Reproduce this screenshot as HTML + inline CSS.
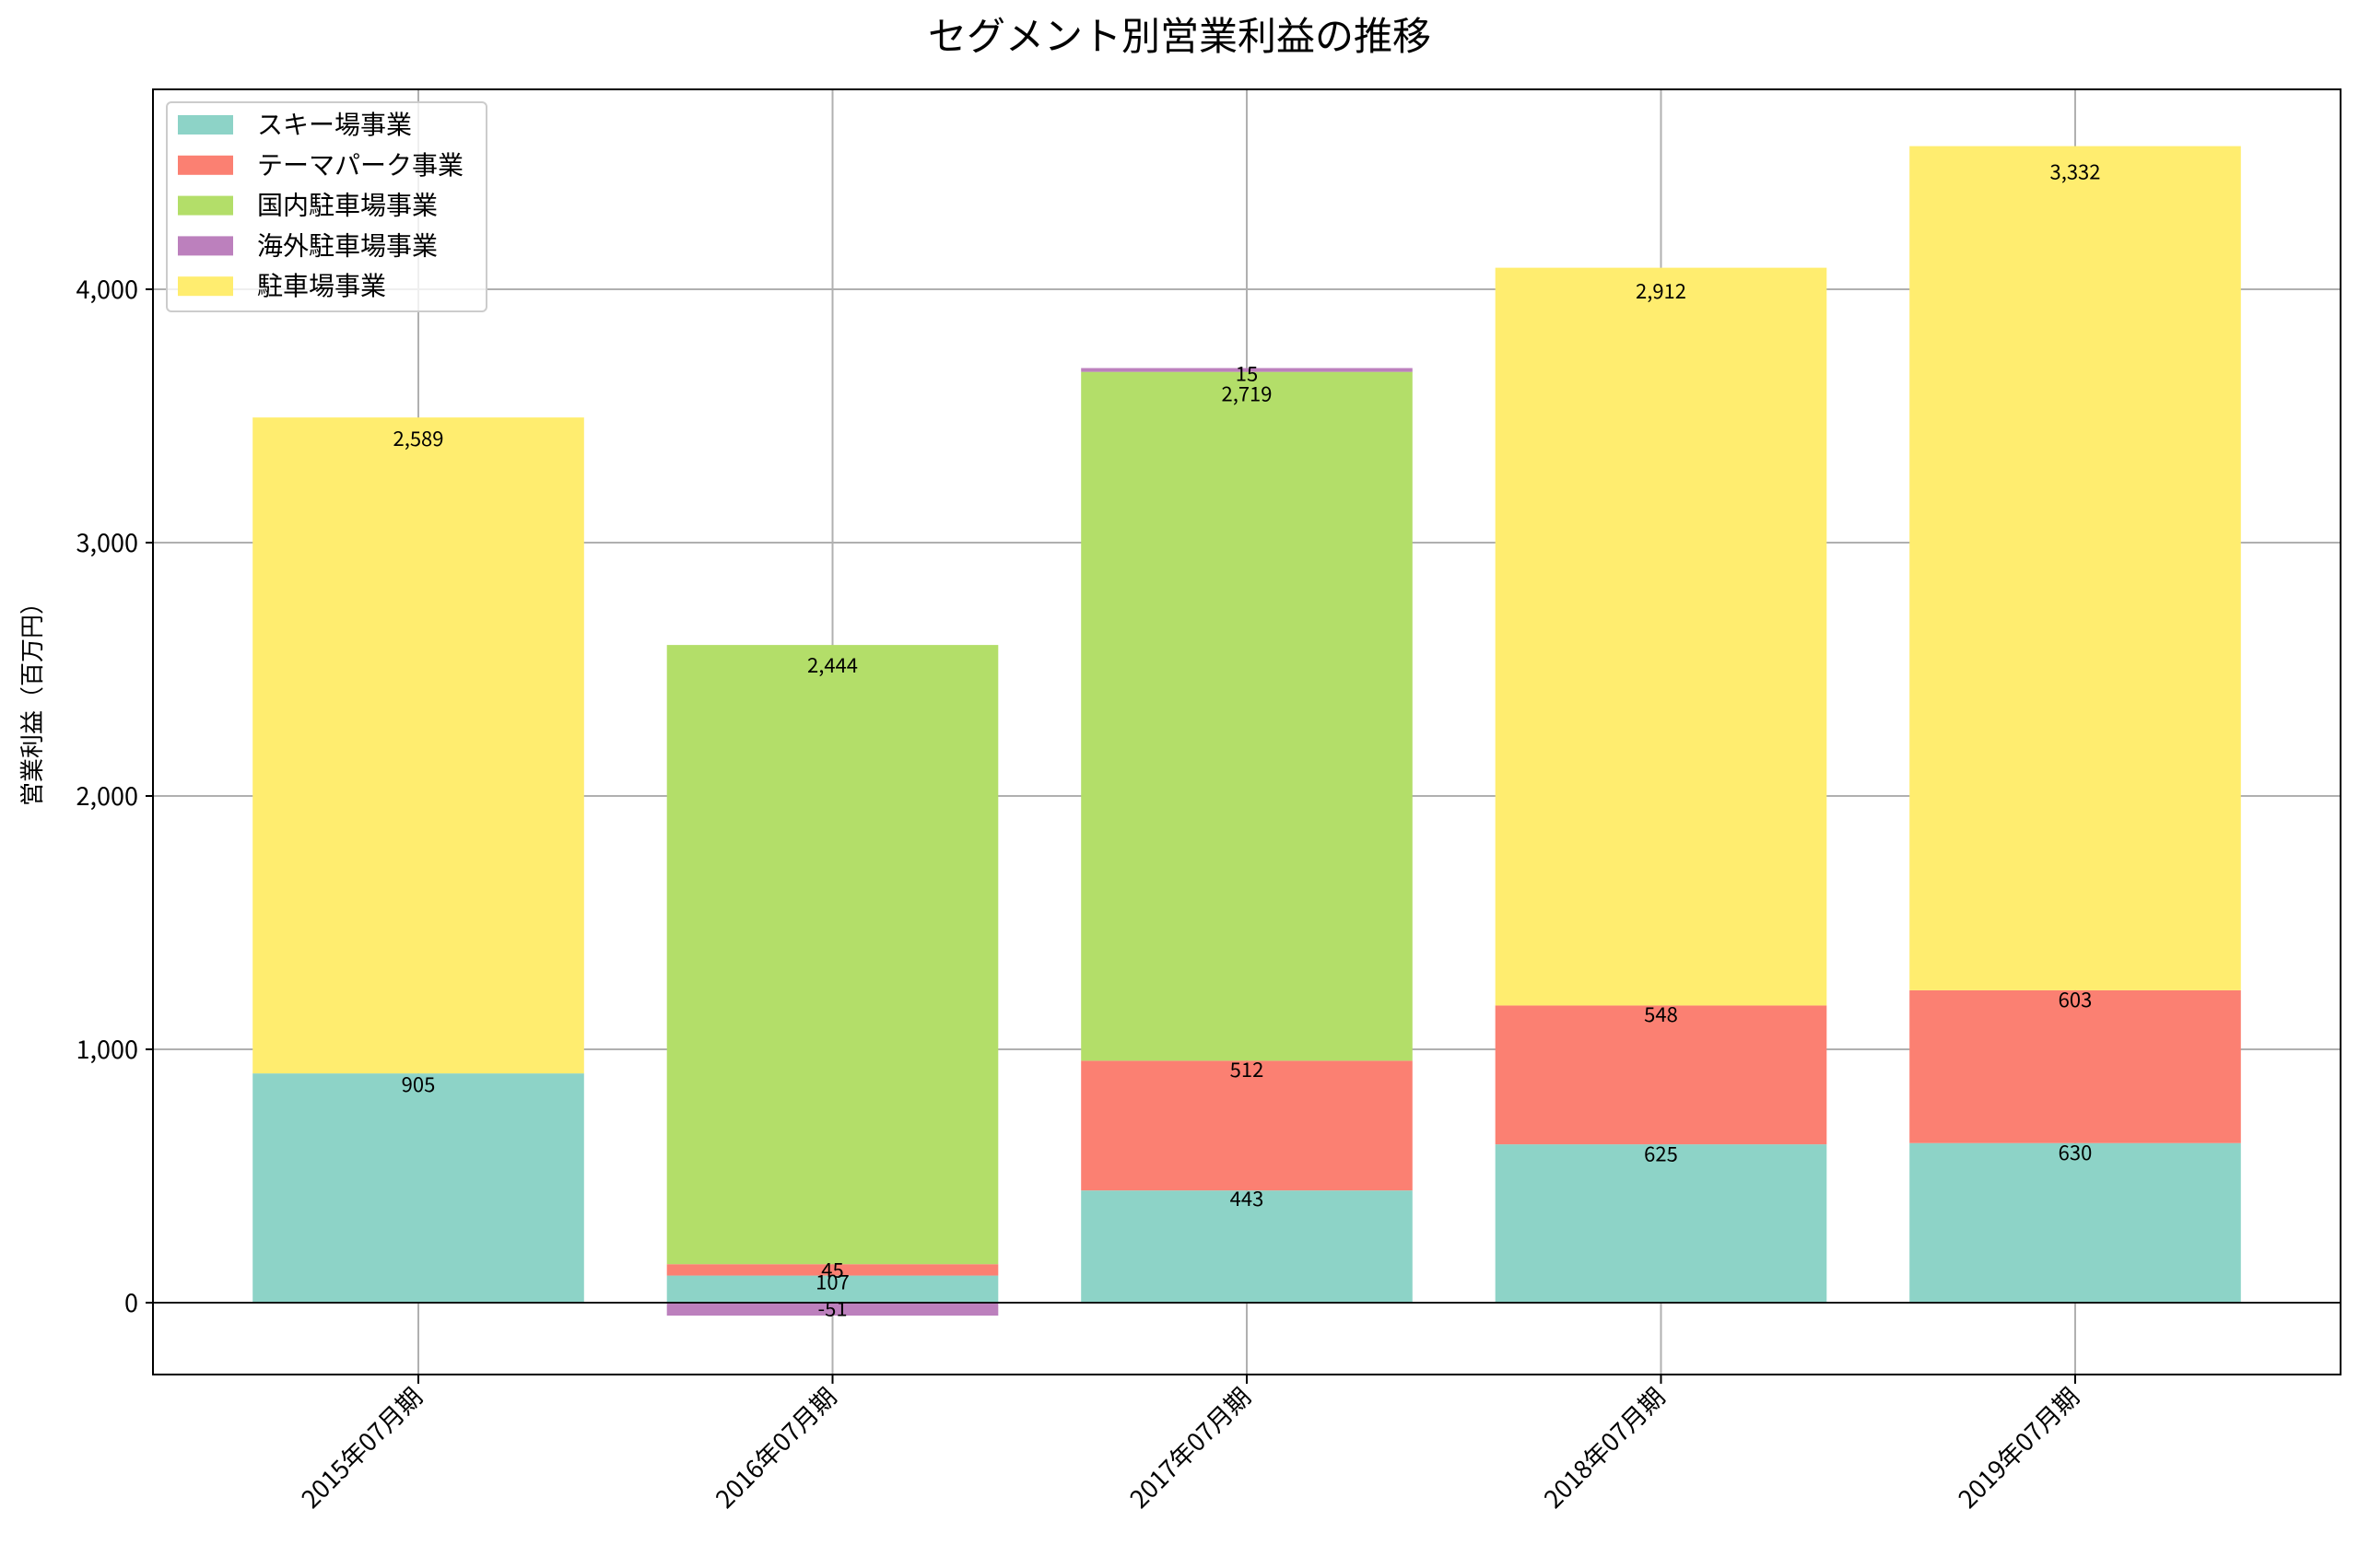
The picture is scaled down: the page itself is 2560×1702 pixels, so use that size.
<!DOCTYPE html>
<html><head><meta charset="utf-8"><style>
body{margin:0;background:#fff}
svg text{font-family:"Noto Sans CJK JP","Liberation Sans",sans-serif;fill:#000}
</style></head><body>
<svg id="chart" xmlns="http://www.w3.org/2000/svg" width="2560" height="1697" viewBox="0 0 2560 1697">
<rect width="2560" height="1697" fill="#fff"/>
<text x="1280" y="54" font-size="42" text-anchor="middle">セグメント別営業利益の推移</text>
<text transform="translate(44,758) rotate(-90)" font-size="26" text-anchor="middle">営業利益（百万円）</text>
<g id="grid"></g><g id="bars"></g><g id="labels"></g><g id="axes"></g>
<g id="legend">
<rect x="181" y="111" width="347" height="227" rx="5" fill="#fff" fill-opacity="0.8" stroke="#ccc" stroke-width="2"/>
</g>
</svg>
<script>
const categories=["2015年07月期","2016年07月期","2017年07月期","2018年07月期","2019年07月期"];
const seriesNames=["スキー場事業","テーマパーク事業","国内駐車場事業","海外駐車場事業","駐車場事業"];
const ski=[905,107,443,625,630];
const theme=[0,45,512,548,603];
const domestic=[0,2444,2719,0,0];
const overseas=[0,-51,15,0,0];
const parking=[2589,0,0,2912,3332];
const yTicks=[0,1000,2000,3000,4000];
const yTickLabels=["0","1,000","2,000","3,000","4,000"];
const colors=["#8dd3c7","#fb8072","#b3de69","#bc80bd","#ffed6f"];
const series=[ski,theme,domestic,overseas,parking];
const L=166,R=2540,T=97,B=1492,Y0=1414,PX=0.275;
const yv=v=>Y0-v*PX;
const xc=i=>454+i*449.5;
const BW=359.6;
const NS="http://www.w3.org/2000/svg";
function mk(tag,attrs,parent){const e=document.createElementNS(NS,tag);for(const k in attrs)e.setAttribute(k,attrs[k]);parent.appendChild(e);return e;}
const grid=document.getElementById('grid'),bars=document.getElementById('bars'),labels=document.getElementById('labels'),axes=document.getElementById('axes'),legend=document.getElementById('legend');
yTicks.forEach((t,i)=>{
 const g=mk('line',{x1:L,x2:R,y1:yv(t),y2:yv(t),stroke:'#b0b0b0','stroke-width':2},grid);
 
 
 const tk=mk('line',{x1:L-8,x2:L,y1:yv(t),y2:yv(t),stroke:'#000','stroke-width':2},axes);
 
 
 const tx=mk('text',{x:L-16,y:yv(t)+10,'font-size':27,'text-anchor':'end'},axes);
 tx.textContent=yTickLabels[i];
 
 
});
categories.forEach((c,i)=>{
 const g=mk('line',{x1:xc(i),x2:xc(i),y1:T,y2:B,stroke:'#b0b0b0','stroke-width':2},grid);
 
 
 let pos=0,neg=0;
 series.forEach((s,si)=>{
  const v=s[i]; if(v===0)return;
  let b,t;
  if(v>0){b=pos;t=pos+v;pos=t;}else{b=neg;t=neg+v;neg=t;}
  const r=mk('rect',{x:xc(i)-BW/2,y:Math.min(yv(b),yv(t)),width:BW,height:Math.abs(yv(t)-yv(b)),fill:colors[si]},bars);
  
  
  const top=v>0?t:b;
  const lt=mk('text',{x:xc(i),y:yv(top)+7+Math.abs(v)*0.0066+7,'font-size':22,'text-anchor':'middle'},labels);
  lt.textContent=v.toLocaleString('en-US');
  
  
 });
 const tk=mk('line',{x1:xc(i),x2:xc(i),y1:B,y2:B+10,stroke:'#000','stroke-width':2},axes);
 
 
 const tx=mk('text',{transform:`translate(${xc(i)+6},${B+26}) rotate(-45)`,'font-size':27,'text-anchor':'end'},axes);
 tx.textContent=c;
 
 
});
const zl=mk('line',{x1:L,x2:R,y1:Y0,y2:Y0,stroke:'#000','stroke-width':1.8},axes);


const fr=mk('rect',{x:L,y:T,width:R-L,height:B-T,fill:'none',stroke:'#000','stroke-width':2},axes);


seriesNames.forEach((n,i)=>{
 const cy=135+i*43.8;
 const sw=mk('rect',{x:193,y:cy-10,width:60,height:21,fill:colors[i]},legend);
 
 
 const t=mk('text',{x:279,y:cy+10,'font-size':28},legend);
 t.textContent=n;
 
 
});
</script>
</body></html>
